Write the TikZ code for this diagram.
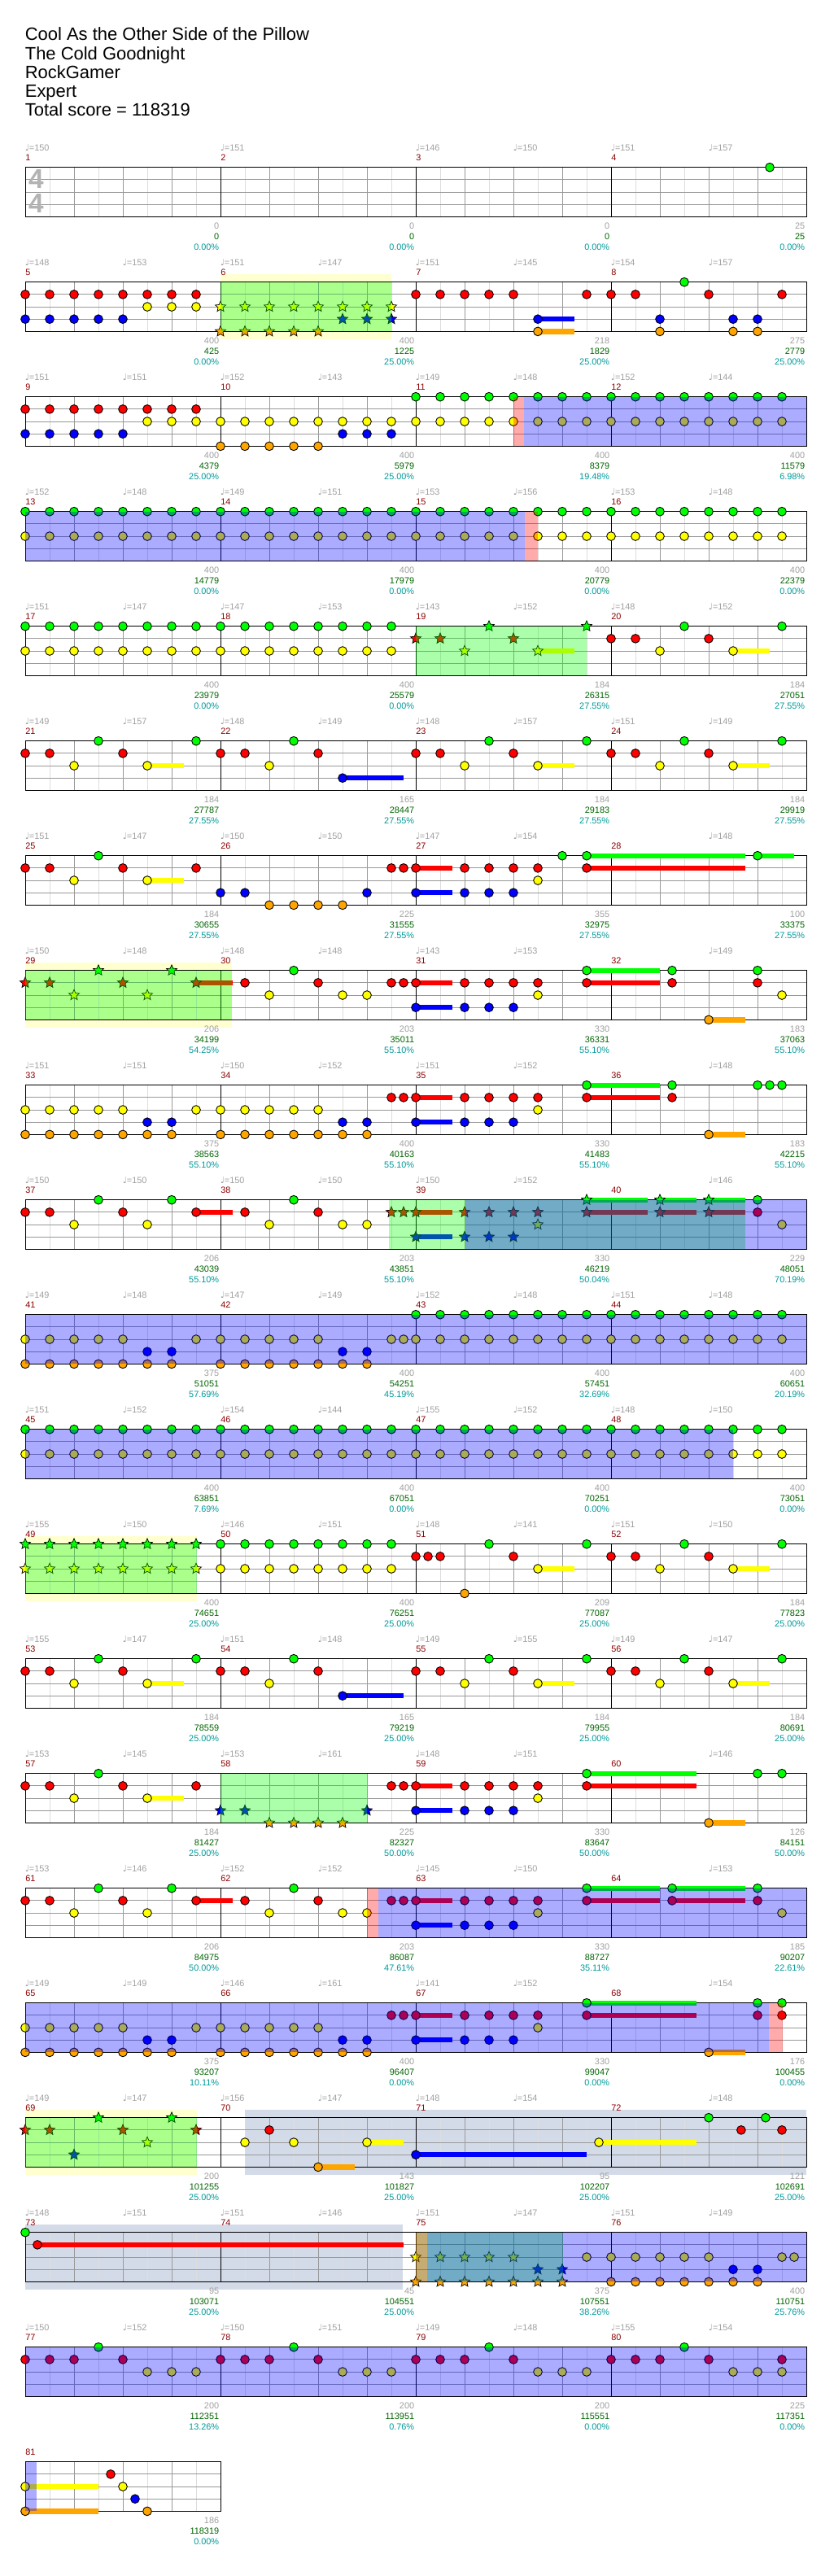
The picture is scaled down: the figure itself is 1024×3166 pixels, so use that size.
\documentclass[tikz,border=0pt]{standalone}
\usepackage{fontspec}
\setmainfont{Liberation Sans}
\newfontfamily\djv{DejaVu Sans}
\usetikzlibrary{shapes.geometric}

\definecolor{lane0}{RGB}{0,255,0}
\definecolor{lane1}{RGB}{255,0,0}
\definecolor{lane2}{RGB}{255,255,0}
\definecolor{lane3}{RGB}{0,0,255}
\definecolor{lane4}{RGB}{255,165,0}
\definecolor{barred}{RGB}{139,0,0}
\definecolor{labgray}{RGB}{160,160,160}
\definecolor{scoregreen}{RGB}{0,100,0}
\definecolor{pctteal}{RGB}{0,153,153}
\definecolor{bandyellow}{RGB}{255,255,208}
\definecolor{bandslate}{RGB}{212,219,232}
\definecolor{eighthgray}{RGB}{221,221,221}
\definecolor{beatgray}{RGB}{153,153,153}

\tikzset{
  gem/.style={circle, draw=black, line width=0.5pt, inner sep=0pt, minimum size=6.1pt},
  spgem/.style={star, star points=5, star point ratio=2.2, draw=black, line width=0.4pt, inner sep=0pt, minimum size=7.8pt},
  eline/.style={draw=eighthgray, line width=0.5pt},
  qline/.style={draw=beatgray, line width=0.5pt},
  bline/.style={draw=black, line width=0.5pt},
  lab/.style={font=\fontsize{6.2}{7}\selectfont, inner sep=0pt},
  tempo/.style={lab, text=labgray, anchor=west},
  barno/.style={lab, text=barred, anchor=west},
  phrase/.style={fill=lane0, fill opacity=0.33},
  drive/.style={fill=lane3, fill opacity=0.33},
  pinkon/.style={fill=lane1, fill opacity=0.33}
}

\newcommand\qn{{\djv\char"2669}}
% staff of one row: row, number of measures
\newcommand\staff[2]{%
  \pgfmathsetmacro\sy{205.7+141*(#1-1)}%
  \pgfmathtruncatemacro\ne{8*#2-1}%
  \pgfmathtruncatemacro\nq{4*#2-1}%
  \foreach \k in {1,...,\ne}{\draw[eline] (31+30*\k,\sy) -- ++(0,60.67);}
  \foreach \k in {1,...,\nq}{\draw[qline] (31+60*\k,\sy) -- ++(0,60.67);}
  \foreach \k in {1,2,3}{\draw[qline] (31,\sy+15.17*\k) -- ++(240*#2,0);}
  \foreach \k in {1,...,#2}{\draw[bline] (31+240*\k,\sy) -- ++(0,60.67);}
  \draw[bline] (31,\sy) rectangle ++(240*#2,60.67);}
\newcommand\mpos[1]{%
  \pgfmathsetmacro\bx{31+240*mod(#1-1,4)}%
  \pgfmathsetmacro\by{205.7+141*int((#1-1)/4)}}
% notes: measure, list of eighth/lane
\newcommand\gems[2]{\mpos{#1}%
  \foreach \ps/\lane [count=\i] in {#2}{\node[gem, fill=lane\lane] (g#1-\i) at (\bx+30*\ps,\by+15.17*\lane) {};}}
\newcommand\stars[2]{\mpos{#1}%
  \foreach \ps/\lane [count=\i] in {#2}{\node[spgem, fill=lane\lane] (s#1-\i) at (\bx+30*\ps,\by+15.17*\lane) {};}}
% notes on every eighth: measure, lane, from, to
\newcommand\run[4]{\mpos{#1}%
  \foreach \ps in {#3,...,#4}{\node[gem, fill=lane#2] (r#1-#2-\ps) at (\bx+30*\ps,\by+15.17*#2) {};}}
\newcommand\srun[4]{\mpos{#1}%
  \foreach \ps in {#3,...,#4}{\node[spgem, fill=lane#2] (q#1-#2-\ps) at (\bx+30*\ps,\by+15.17*#2) {};}}
% sustain: measure, from, to, lane
\newcommand\sus[4]{\mpos{#1}%
  \fill[lane#4] (\bx+30*#2,\by+15.17*#4-3.2) rectangle (\bx+30*#3,\by+15.17*#4+3.2);}
% overlays: style, row, x from, x to
\newcommand\ovl[4]{\pgfmathsetmacro\sy{205.7+141*(#2-1)}%
  \fill[#1] (#3,\sy) rectangle (#4,\sy+60.67);}
\newcommand\band[4]{\pgfmathsetmacro\sy{205.7+141*(#2-1)}%
  \fill[#1] (#3,\sy-10) rectangle (#4,\sy+70.67);}
% labels: measure, tempo, tempo at half, notes, score, percent
\newcommand\msr[6]{\mpos{#1}%
  \node[barno] (n#1) at (\bx,\by-11.7) {#1};
  \ifx\relax#2\relax\else\node[tempo] (ta#1) at (\bx-0.5,\by-24.4) {\qn=#2};\fi
  \ifx\relax#3\relax\else\node[tempo] (tb#1) at (\bx+119.5,\by-24.4) {\qn=#3};\fi
  \node[lab, text=labgray, anchor=east] (c#1) at (\bx+238.5,\by+72.3) {#4};
  \node[lab, text=scoregreen, anchor=east] (sc#1) at (\bx+238.5,\by+85.3) {#5};
  \node[lab, text=pctteal, anchor=east] (pc#1) at (\bx+238.5,\by+98.3) {#6\%};}

\begin{document}
\begin{tikzpicture}[x=0.02cm, y=-0.02cm]
\fill[white] (0,0) rectangle (1024,3166);
\useasboundingbox (0,0) rectangle (1024,3166);

\begin{scope}[every node/.style={anchor=base west, inner sep=0pt, font=\fontsize{12.5}{15}\selectfont}]
\node (title) at (30.5,50) {Cool As the Other Side of the Pillow};
\node (artist) at (30.5,73.1) {The Cold Goodnight};
\node (charter) at (30.5,96.2) {RockGamer};
\node (level) at (30.5,119.3) {Expert};
\node (total) at (30.5,142.4) {Total score = 118319};
\end{scope}

% row 1: measures 1-4
\staff{1}{4}
\node[font=\fontsize{19}{19}\bfseries\selectfont, text=labgray!80, inner sep=0pt] (tsa) at (44.5,220.5) {4};
\node[font=\fontsize{19}{19}\bfseries\selectfont, text=labgray!80, inner sep=0pt] (tsb) at (44.5,250.5) {4};
\gems{4}{6.5/0}
\msr{1}{150}{}{0}{0}{0.00}
\msr{2}{151}{}{0}{0}{0.00}
\msr{3}{146}{150}{0}{0}{0.00}
\msr{4}{151}{157}{25}{25}{0.00}

% row 2: measures 5-8
\band{bandyellow}{2}{271}{481}
\staff{2}{4}
\run{5}{1}{0}{7}\run{5}{2}{5}{7}\run{5}{3}{0}{4}
\srun{6}{2}{0}{7}\srun{6}{3}{5}{7}\srun{6}{4}{0}{4}
\sus{7}{5}{6.5}{3}\sus{7}{5}{6.5}{4}
\gems{7}{0/1,1/1,2/1,3/1,4/1,5/3,5/4,7/1}
\gems{8}{0/1,1/1,2/3,2/4,3/0,4/1,5/3,5/4,6/3,6/4,7/1}
\ovl{phrase}{2}{271}{481}
\msr{5}{148}{153}{400}{425}{0.00}
\msr{6}{151}{147}{400}{1225}{25.00}
\msr{7}{151}{145}{218}{1829}{25.00}
\msr{8}{154}{157}{275}{2779}{25.00}

% row 3: measures 9-12
\staff{3}{4}
\run{9}{1}{0}{7}\run{9}{2}{5}{7}\run{9}{3}{0}{4}
\run{10}{2}{0}{7}\run{10}{3}{5}{7}\run{10}{4}{0}{4}
\run{11}{0}{0}{7}\run{11}{2}{0}{7}
\run{12}{0}{0}{7}\run{12}{2}{0}{7}
\ovl{pinkon}{3}{631}{643.7}
\ovl{drive}{3}{643.7}{991}
\msr{9}{151}{151}{400}{4379}{25.00}
\msr{10}{152}{143}{400}{5979}{25.00}
\msr{11}{149}{148}{400}{8379}{19.48}
\msr{12}{152}{144}{400}{11579}{6.98}

% row 4: measures 13-16
\staff{4}{4}
\foreach \m in {13,...,16}{\run{\m}{0}{0}{7}\run{\m}{2}{0}{7}}
\ovl{drive}{4}{31}{645.3}
\ovl{pinkon}{4}{645.3}{661}
\msr{13}{152}{148}{400}{14779}{0.00}
\msr{14}{149}{151}{400}{17979}{0.00}
\msr{15}{153}{156}{400}{20779}{0.00}
\msr{16}{153}{148}{400}{22379}{0.00}

% row 5: measures 17-20
\staff{5}{4}
\foreach \m in {17,18}{\run{\m}{0}{0}{7}\run{\m}{2}{0}{7}}
\sus{19}{5}{6.5}{2}
\stars{19}{0/1,1/1,2/2,3/0,4/1,5/2,7/0}
\sus{20}{5}{6.5}{2}
\gems{20}{0/1,1/1,2/2,3/0,4/1,5/2,7/0}
\ovl{phrase}{5}{511}{721}
\msr{17}{151}{147}{400}{23979}{0.00}
\msr{18}{147}{153}{400}{25579}{0.00}
\msr{19}{143}{152}{184}{26315}{27.55}
\msr{20}{148}{152}{184}{27051}{27.55}

% row 6: measures 21-24
\staff{6}{4}
\foreach \m in {21,23,24}{\sus{\m}{5}{6.5}{2}\gems{\m}{0/1,1/1,2/2,3/0,4/1,5/2,7/0}}
\sus{22}{5}{7.5}{3}
\gems{22}{0/1,1/1,2/2,3/0,4/1,5/3}
\msr{21}{149}{157}{184}{27787}{27.55}
\msr{22}{148}{149}{165}{28447}{27.55}
\msr{23}{148}{157}{184}{29183}{27.55}
\msr{24}{151}{149}{184}{29919}{27.55}

% row 7: measures 25-28
\staff{7}{4}
\sus{25}{5}{6.5}{2}
\gems{25}{0/1,1/1,2/2,3/0,4/1,5/2,7/1}
\gems{26}{0/3,1/3,2/4,3/4,4/4,5/4,6/3,7/1,7.5/1}
\sus{27}{0}{1.5}{1}\sus{27}{0}{1.5}{3}\sus{27}{7}{13.5}{0}\sus{27}{7}{13.5}{1}
\gems{27}{0/1,0/3,2/1,3/1,4/1,5/1,2/3,3/3,4/3,5/2,6/0,7/0,7/1}
\sus{28}{6}{7.5}{0}
\gems{28}{6/0}
\msr{25}{151}{147}{184}{30655}{27.55}
\msr{26}{150}{150}{225}{31555}{27.55}
\msr{27}{147}{154}{355}{32975}{27.55}
\msr{28}{}{148}{100}{33375}{27.55}

% row 8: measures 29-32
\band{bandyellow}{8}{31}{285.4}
\staff{8}{4}
\sus{29}{7}{8.5}{1}
\stars{29}{0/1,1/1,2/2,3/0,4/1,5/2,6/0,7/1}
\gems{30}{1/1,2/2,3/0,4/1,5/2,6/2,7/1,7.5/1}
\sus{31}{0}{1.5}{1}\sus{31}{0}{1.5}{3}\sus{31}{7}{10}{0}\sus{31}{7}{10}{1}
\gems{31}{0/1,0/3,2/1,3/1,4/1,5/1,2/3,3/3,4/3,5/2,7/0,7/1}
\sus{32}{4}{5.5}{4}
\gems{32}{2.5/0,2.5/1,4/4,6/0,6/1,7/2}
\ovl{phrase}{8}{31}{285.4}
\msr{29}{150}{148}{206}{34199}{54.25}
\msr{30}{148}{148}{203}{35011}{55.10}
\msr{31}{143}{153}{330}{36331}{55.10}
\msr{32}{}{149}{183}{37063}{55.10}

% row 9: measures 33-36
\staff{9}{4}
\run{33}{2}{0}{4}\run{33}{4}{0}{6}\gems{33}{7/2,5/3,6/3}
\run{34}{2}{0}{4}\run{34}{4}{0}{6}\gems{34}{5/3,6/3,7/1,7.5/1}
\sus{35}{0}{1.5}{1}\sus{35}{0}{1.5}{3}\sus{35}{7}{10}{0}\sus{35}{7}{10}{1}
\gems{35}{0/1,0/3,2/1,3/1,4/1,5/1,2/3,3/3,4/3,5/2,7/0,7/1}
\sus{36}{4}{5.5}{4}
\gems{36}{2.5/0,2.5/1,4/4,6/0,6.5/0,7/0}
\msr{33}{151}{151}{375}{38563}{55.10}
\msr{34}{150}{152}{400}{40163}{55.10}
\msr{35}{151}{152}{330}{41483}{55.10}
\msr{36}{}{148}{183}{42215}{55.10}

% row 10: measures 37-40
\staff{10}{4}
\sus{37}{7}{8.5}{1}
\gems{37}{0/1,1/1,2/2,3/0,4/1,5/2,6/0,7/1}
\gems{38}{1/1,2/2,3/0,4/1,5/2,6/2}
\stars{38}{7/1,7.5/1}
\sus{39}{0}{1.5}{1}\sus{39}{0}{1.5}{3}\sus{39}{7}{9.5}{0}\sus{39}{7}{9.5}{1}
\stars{39}{0/1,0/3,2/1,3/1,4/1,5/1,2/3,3/3,4/3,5/2,7/0,7/1}
\sus{40}{2}{3.5}{0}\sus{40}{2}{3.5}{1}\sus{40}{4}{5.5}{0}\sus{40}{4}{5.5}{1}
\stars{40}{2/0,2/1,4/0,4/1}
\gems{40}{6/0,6/1,7/2}
\ovl{phrase}{10}{478}{916.4}
\ovl{drive}{10}{571.5}{991}
\msr{37}{150}{150}{206}{43039}{55.10}
\msr{38}{150}{150}{203}{43851}{55.10}
\msr{39}{150}{152}{330}{46219}{50.04}
\msr{40}{}{146}{229}{48051}{70.19}

% row 11: measures 41-44
\staff{11}{4}
\run{41}{2}{0}{4}\run{41}{4}{0}{6}\gems{41}{7/2,5/3,6/3}
\run{42}{2}{0}{4}\run{42}{4}{0}{6}\gems{42}{5/3,6/3,7/2,7.5/2}
\foreach \m in {43,44}{\run{\m}{0}{0}{7}\run{\m}{2}{0}{7}}
\ovl{drive}{11}{31}{991}
\msr{41}{149}{148}{375}{51051}{57.69}
\msr{42}{147}{149}{400}{54251}{45.19}
\msr{43}{152}{148}{400}{57451}{32.69}
\msr{44}{151}{148}{400}{60651}{20.19}

% row 12: measures 45-48
\staff{12}{4}
\foreach \m in {45,...,48}{\run{\m}{0}{0}{7}\run{\m}{2}{0}{7}}
\ovl{drive}{12}{31}{901.4}
\msr{45}{151}{152}{400}{63851}{7.69}
\msr{46}{154}{144}{400}{67051}{0.00}
\msr{47}{155}{152}{400}{70251}{0.00}
\msr{48}{148}{150}{400}{73051}{0.00}

% row 13: measures 49-52
\band{bandyellow}{13}{31}{241.7}
\staff{13}{4}
\srun{49}{0}{0}{7}\srun{49}{2}{0}{7}
\run{50}{0}{0}{7}\run{50}{2}{0}{7}
\sus{51}{5}{6.5}{2}
\gems{51}{0/1,0.5/1,1/1,2/4,3/0,4/1,5/2,7/0}
\sus{52}{5}{6.5}{2}
\gems{52}{0/1,1/1,2/2,3/0,4/1,5/2,7/0}
\ovl{phrase}{13}{31}{241.7}
\msr{49}{155}{150}{400}{74651}{25.00}
\msr{50}{146}{151}{400}{76251}{25.00}
\msr{51}{148}{141}{209}{77087}{25.00}
\msr{52}{151}{150}{184}{77823}{25.00}

% row 14: measures 53-56
\staff{14}{4}
\foreach \m in {53,55,56}{\sus{\m}{5}{6.5}{2}\gems{\m}{0/1,1/1,2/2,3/0,4/1,5/2,7/0}}
\sus{54}{5}{7.5}{3}
\gems{54}{0/1,1/1,2/2,3/0,4/1,5/3}
\msr{53}{155}{147}{184}{78559}{25.00}
\msr{54}{151}{148}{165}{79219}{25.00}
\msr{55}{149}{155}{184}{79955}{25.00}
\msr{56}{149}{147}{184}{80691}{25.00}

% row 15: measures 57-60
\staff{15}{4}
\sus{57}{5}{6.5}{2}
\gems{57}{0/1,1/1,2/2,3/0,4/1,5/2,7/1}
\stars{58}{0/3,1/3,2/4,3/4,4/4,5/4,6/3}
\gems{58}{7/1,7.5/1}
\sus{59}{0}{1.5}{1}\sus{59}{0}{1.5}{3}\sus{59}{7}{11.5}{0}\sus{59}{7}{11.5}{1}
\gems{59}{0/1,0/3,2/1,3/1,4/1,5/1,2/3,3/3,4/3,5/2,7/0,7/1}
\sus{60}{4}{5.5}{4}
\gems{60}{4/4,6/0,7/0}
\ovl{phrase}{15}{271}{451.3}
\msr{57}{153}{145}{184}{81427}{25.00}
\msr{58}{153}{161}{225}{82327}{50.00}
\msr{59}{148}{151}{330}{83647}{50.00}
\msr{60}{}{146}{126}{84151}{50.00}

% row 16: measures 61-64
\staff{16}{4}
\sus{61}{7}{8.5}{1}
\gems{61}{0/1,1/1,2/2,3/0,4/1,5/2,6/0,7/1}
\gems{62}{1/1,2/2,3/0,4/1,5/2,6/2,7/1,7.5/1}
\sus{63}{0}{1.5}{1}\sus{63}{0}{1.5}{3}\sus{63}{7}{10}{0}\sus{63}{7}{10}{1}
\gems{63}{0/1,0/3,2/1,3/1,4/1,5/1,2/3,3/3,4/3,5/2,7/0,7/1}
\sus{64}{2.5}{5.5}{0}\sus{64}{2.5}{5.5}{1}
\gems{64}{2.5/0,2.5/1,6/0,6/1,7/2}
\ovl{pinkon}{16}{450.7}{465}
\ovl{drive}{16}{465}{991}
\msr{61}{153}{146}{206}{84975}{50.00}
\msr{62}{152}{152}{203}{86087}{47.61}
\msr{63}{145}{150}{330}{88727}{35.11}
\msr{64}{}{153}{185}{90207}{22.61}

% row 17: measures 65-68
\staff{17}{4}
\run{65}{2}{0}{4}\run{65}{4}{0}{6}\gems{65}{7/2,5/3,6/3}
\run{66}{2}{0}{4}\run{66}{4}{0}{6}\gems{66}{5/3,6/3,7/1,7.5/1}
\sus{67}{0}{1.5}{1}\sus{67}{0}{1.5}{3}\sus{67}{7}{11.5}{0}\sus{67}{7}{11.5}{1}
\gems{67}{0/1,0/3,2/1,3/1,4/1,5/1,2/3,3/3,4/3,5/2,7/0,7/1}
\sus{68}{4}{5.5}{4}
\gems{68}{4/4,6/0,6/1,7/0,7/1}
\ovl{drive}{17}{31}{945.1}
\ovl{pinkon}{17}{945.1}{961.5}
\msr{65}{149}{149}{375}{93207}{10.11}
\msr{66}{146}{161}{400}{96407}{0.00}
\msr{67}{141}{152}{330}{99047}{0.00}
\msr{68}{}{154}{176}{100455}{0.00}

% row 18: measures 69-72
\band{bandyellow}{18}{31}{241.7}
\band{bandslate}{18}{301}{991}
\staff{18}{4}
\stars{69}{0/1,1/1,2/3,3/0,4/1,5/2,6/0,7/1}
\sus{70}{4}{5.5}{4}\sus{70}{6}{7.5}{2}
\gems{70}{1/2,2/1,3/2,4/4,6/2}
\sus{71}{0}{7}{3}\sus{71}{7.5}{11.5}{2}
\gems{71}{0/3,7.5/2}
\gems{72}{4/0,5.33/1,6.33/0,7/1}
\ovl{phrase}{18}{31}{241.7}
\msr{69}{149}{147}{200}{101255}{25.00}
\msr{70}{156}{147}{143}{101827}{25.00}
\msr{71}{148}{154}{95}{102207}{25.00}
\msr{72}{}{148}{121}{102691}{25.00}

% row 19: measures 73-76
\band{bandslate}{19}{31}{495}
\staff{19}{4}
\sus{73}{0.5}{15.5}{1}
\gems{73}{0/0,0.5/1}
\stars{75}{0/2,1/2,2/2,3/2,4/2,5/3,6/3,0/4,1/4,2/4,3/4,4/4,5/4,6/4}
\gems{75}{7/2}
\run{76}{2}{0}{4}\run{76}{4}{0}{6}\gems{76}{7/2,7.5/2,5/3,6/3}
\ovl{phrase}{19}{511}{691.7}
\ovl{pinkon}{19}{511}{524.5}
\ovl{drive}{19}{524.5}{991}
\msr{73}{148}{151}{95}{103071}{25.00}
\msr{74}{151}{146}{45}{104551}{25.00}
\msr{75}{151}{147}{375}{107551}{38.26}
\msr{76}{151}{149}{400}{110751}{25.76}

% row 20: measures 77-80
\staff{20}{4}
\foreach \m in {77,78,79}{\gems{\m}{0/1,1/1,2/1,3/0,4/1,5/2,6/2,7/2}}
\gems{80}{0/1,1/1,2/1,3/0,4/1,5/2,6/2,7/2,7/1}
\ovl{drive}{20}{31}{991}
\msr{77}{150}{152}{200}{112351}{13.26}
\msr{78}{150}{151}{200}{113951}{0.76}
\msr{79}{149}{148}{200}{115551}{0.00}
\msr{80}{155}{154}{225}{117351}{0.00}

% row 21: measure 81
\staff{21}{1}
\sus{81}{0}{3}{2}\sus{81}{0}{3}{4}
\gems{81}{0/2,0/4,3.5/1,4/2,4.5/3,5/4}
\ovl{drive}{21}{31}{45}
\msr{81}{}{}{186}{118319}{0.00}
\end{tikzpicture}
\end{document}
